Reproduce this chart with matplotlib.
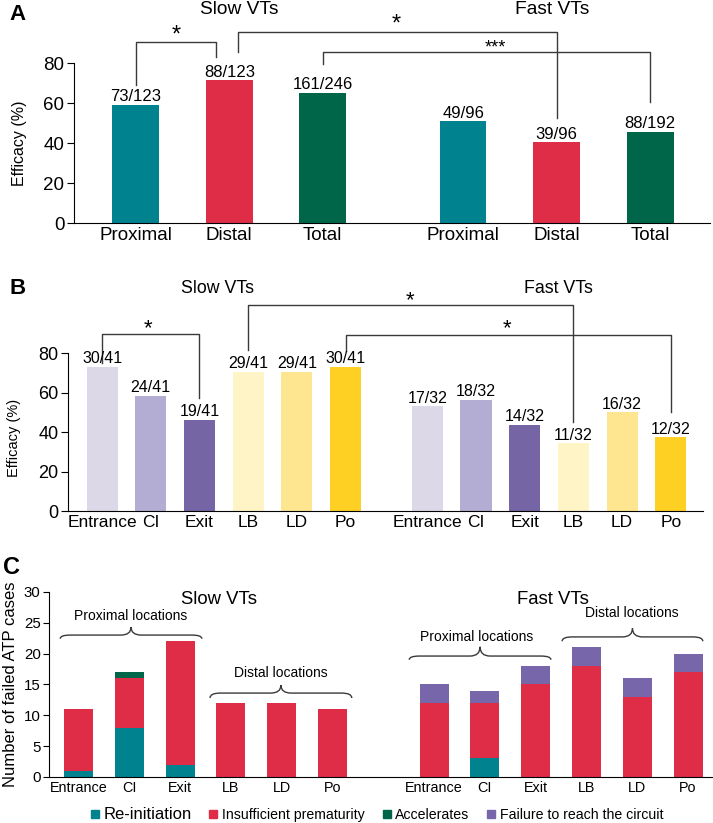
import matplotlib
matplotlib.use('Agg')
import matplotlib.pyplot as plt
from matplotlib.path import Path
from matplotlib.patches import PathPatch
from matplotlib.lines import Line2D
import numpy as np

plt.rcParams['font.family'] = 'Liberation Sans'

# ---- data ----
a_cats = ['Proximal', 'Distal', 'Total']
a_slow = [59.3, 71.5, 65.4]
a_fast = [51.0, 40.6, 45.8]
a_slow_lab = ['73/123', '88/123', '161/246']
a_fast_lab = ['49/96', '39/96', '88/192']

b_cats = ['Entrance', 'CI', 'Exit', 'LB', 'LD', 'Po']
b_slow = [73.2, 58.5, 46.3, 70.7, 70.7, 73.2]
b_fast = [53.1, 56.3, 43.8, 34.4, 50.0, 37.5]
b_slow_lab = ['30/41', '24/41', '19/41', '29/41', '29/41', '30/41']
b_fast_lab = ['17/32', '18/32', '14/32', '11/32', '16/32', '12/32']

c_cats = ['Entrance', 'CI', 'Exit', 'LB', 'LD', 'Po']
c_series = ['Re-initiation', 'Insufficient prematurity', 'Accelerates',
            'Failure to reach the circuit']
c_slow = {'Re-initiation': [1, 8, 2, 0, 0, 0],
          'Insufficient prematurity': [10, 8, 20, 12, 12, 11],
          'Accelerates': [0, 1, 0, 0, 0, 0],
          'Failure to reach the circuit': [0, 0, 0, 0, 0, 0]}
c_fast = {'Re-initiation': [0, 3, 0, 0, 0, 0],
          'Insufficient prematurity': [12, 9, 15, 18, 13, 17],
          'Accelerates': [0, 0, 0, 0, 0, 0],
          'Failure to reach the circuit': [3, 2, 3, 3, 3, 3]}

teal = '#00838F'
red = '#E02D47'
green = '#00664A'
purple = '#7766AA'
a_colors = [teal, red, green]
b_colors = ['#DCD8E8', '#B4ADD3', '#7565A5', '#FEF4C5', '#FEE58F', '#FFD024']
c_colors = [teal, red, green, purple]
line_col = '#3a3a3a'

fig = plt.figure(figsize=(7.13, 8.23), dpi=100)


def px_axes(left, right, top, bottom):
    return fig.add_axes([left / 713, 1 - bottom / 823,
                         (right - left) / 713, (bottom - top) / 823])


def style(ax, ytop, fs_y, ticklen):
    ax.spines['top'].set_visible(False)
    ax.spines['right'].set_visible(False)
    ax.spines['left'].set_bounds(0, ytop)
    ax.tick_params(axis='x', length=0, pad=3)
    ax.tick_params(axis='y', length=ticklen, labelsize=fs_y, pad=2)


def bracket(ax, x0, y0, x1, y1, ytop):
    ax.plot([x0, x0, x1, x1], [y0, ytop, ytop, y1], color=line_col,
            lw=1.0, clip_on=False)


def star(ax, x, y, txt, fs):
    ax.annotate(txt, (x, y), xytext=(0, -0.58 * fs), textcoords='offset points',
                ha='center', va='baseline', fontsize=fs, annotation_clip=False)


def brace(ax, x0, x1, y_end, y_flat, y_tip, r=0.2):
    xm = (x0 + x1) / 2
    verts = [(x0, y_end), (x0, y_flat), (x0 + r, y_flat), (xm - r, y_flat),
             (xm, y_flat), (xm, y_tip), (xm, y_flat), (xm + r, y_flat),
             (x1 - r, y_flat), (x1, y_flat), (x1, y_end)]
    codes = [Path.MOVETO, Path.CURVE3, Path.CURVE3, Path.LINETO,
             Path.CURVE3, Path.CURVE3, Path.CURVE3, Path.CURVE3,
             Path.LINETO, Path.CURVE3, Path.CURVE3]
    ax.add_patch(PathPatch(Path(verts, codes), fill=False, color=line_col,
                           lw=1.0, clip_on=False))


# ---- panel A ----
axA = px_axes(74, 710, 1.3, 223.3)
pos_a_slow = np.arange(3)
pos_a_fast = np.arange(3) + 3.5
axA.bar(pos_a_slow, a_slow, width=0.5, color=a_colors)
axA.bar(pos_a_fast, a_fast, width=0.5, color=a_colors)
for x, v, lab in zip(list(pos_a_slow) + list(pos_a_fast), a_slow + a_fast,
                     a_slow_lab + a_fast_lab):
    axA.text(x, v + 0.3, lab, ha='center', va='bottom', fontsize=12)
axA.set_xlim(-0.66, 6.14)
axA.set_ylim(0, 111)
axA.set_yticks([0, 20, 40, 60, 80])
axA.set_xticks(list(pos_a_slow) + list(pos_a_fast))
axA.set_xticklabels(a_cats * 2, fontsize=13.5)
style(axA, 80, 13.5, 5)
axA.text(1.11, 106.7, 'Slow VTs', ha='center', va='center', fontsize=13.8)
axA.text(4.45, 106.7, 'Fast VTs', ha='center', va='center', fontsize=13.8)
bracket(axA, 0, 69.2, 0.86, 83.3, 90.8)
star(axA, 0.43, 97.7, '*', 17)
bracket(axA, 1.09, 85.8, 4.5, 52.5, 95.5)
star(axA, 2.78, 103.3, '*', 17)
bracket(axA, 2.0, 79.5, 5.5, 60.8, 85.8)
star(axA, 3.85, 90.8, '***', 13)

# ---- panel B ----
axB = px_axes(68, 703, 278.5, 511)
pos_b_slow = np.arange(6)
pos_b_fast = np.arange(6) + 6.68
axB.bar(pos_b_slow, b_slow, width=0.64, color=b_colors)
axB.bar(pos_b_fast, b_fast, width=0.64, color=b_colors)
for x, v, lab in zip(list(pos_b_slow) + list(pos_b_fast), b_slow + b_fast,
                     b_slow_lab + b_fast_lab):
    axB.text(x, v + 0.3, lab, ha='center', va='bottom', fontsize=11.5)
axB.set_xlim(-0.70, 12.34)
axB.set_ylim(0, 118)
axB.set_yticks([0, 20, 40, 60, 80])
axB.set_xticks(list(pos_b_slow) + list(pos_b_fast))
axB.set_xticklabels(b_cats * 2, fontsize=12.5)
style(axB, 80, 13, 5)
axB.text(2.37, 113, 'Slow VTs', ha='center', va='center', fontsize=12.8)
axB.text(9.38, 113, 'Fast VTs', ha='center', va='center', fontsize=12.8)
bracket(axB, 0, 75, 2, 57.2, 89.7)
star(axB, 0.94, 96.1, '*', 16)
bracket(axB, 3, 81.7, 9.68, 45.3, 104.6)
star(axB, 6.32, 110.5, '*', 16)
bracket(axB, 5, 81.2, 11.68, 50.1, 89.3)
star(axB, 8.32, 96.1, '*', 16)

# ---- panel C ----
axC = px_axes(49, 713, 585.7, 777)
pos_c_slow = np.arange(6)
pos_c_fast = np.arange(6) + 7
for pos, data in [(pos_c_slow, c_slow), (pos_c_fast, c_fast)]:
    bottom = np.zeros(6)
    for s, col in zip(c_series, c_colors):
        vals = np.array(data[s], dtype=float)
        axC.bar(pos, vals, width=0.57, bottom=bottom, color=col)
        bottom += vals
axC.set_xlim(-0.58, 12.49)
axC.set_ylim(0, 31)
axC.set_yticks([0, 5, 10, 15, 20, 25, 30])
axC.set_xticks(list(pos_c_slow) + list(pos_c_fast))
axC.set_xticklabels(c_cats * 2, fontsize=10.4)
style(axC, 30, 10.8, 4)
axC.text(2.77, 28.7, 'Slow VTs', ha='center', va='center', fontsize=13.3)
axC.text(9.34, 28.8, 'Fast VTs', ha='center', va='center', fontsize=13.3)
brace(axC, -0.36, 2.43, 22.4, 23.0, 24.3)
axC.text(1.03, 26.1, 'Proximal locations', ha='center', va='center', fontsize=10)
brace(axC, 2.59, 5.38, 12.8, 13.6, 14.9)
axC.text(3.99, 16.9, 'Distal locations', ha='center', va='center', fontsize=10)
brace(axC, 6.51, 9.30, 19.0, 19.6, 21.1)
axC.text(7.84, 22.7, 'Proximal locations', ha='center', va='center', fontsize=10)
brace(axC, 9.52, 12.29, 22.0, 22.7, 24.1)
axC.text(10.9, 26.6, 'Distal locations', ha='center', va='center', fontsize=10)

handles = [Line2D([], [], marker='s', ls='', color=c, markersize=5.5)
           for c in c_colors]
leg = fig.legend(handles, c_series, loc='center', bbox_to_anchor=(0.528, 0.0105),
                 ncol=4, frameon=False, fontsize=10.2, handlelength=0.7,
                 handletextpad=0.25, columnspacing=1.2, borderpad=0)
leg.get_texts()[0].set_fontsize(12)

# ---- labels ----
fig.text(20 / 713, 1 - 143 / 823, 'Efficacy (%)', rotation=90, ha='center',
         va='center', fontsize=11.5)
fig.text(14 / 713, 1 - 438 / 823, 'Efficacy (%)', rotation=90, ha='center',
         va='center', fontsize=10.5)
fig.text(11 / 713, 1 - 684 / 823, 'Number of failed ATP cases', rotation=90,
         ha='center', va='center', fontsize=12)
fig.text(18 / 713, 1 - 15 / 823, 'A', ha='center', va='center', fontsize=16,
         fontweight='bold')
fig.text(18 / 713, 1 - 288 / 823, 'B', ha='center', va='center', fontsize=16,
         fontweight='bold')
fig.text(11 / 713, 1 - 567 / 823, 'C', ha='center', va='center', fontsize=17,
         fontweight='bold')

fig.savefig('out.png', dpi=100)
